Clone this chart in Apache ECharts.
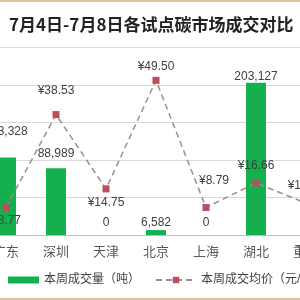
<!DOCTYPE html>
<html>
<head>
<meta charset="utf-8">
<script src="https://cdn.jsdelivr.net/npm/echarts@6/dist/echarts.min.js"></script>
<style>
  html, body { margin: 0; padding: 0; background: #fff; overflow: hidden; }
  #frame { position: relative; width: 300px; height: 300px; overflow: hidden; }
  #frame::before, #frame::after { content: ''; position: absolute; left: 0; width: 300px; height: 2px; background: #DCC29A; z-index: 2; }
  #frame::before { top: 0; }
  #frame::after { bottom: 0; }
  /* the reference is a crop of a wider chart, so the canvas runs past both edges */
  #chart { position: absolute; left: -19px; top: 0; width: 350px; height: 300px; }
</style>
</head>
<body>
<div id="frame"><div id="chart"></div></div>
<script>
const cities = ['广东', '深圳', '天津', '北京', '上海', '湖北', '重庆']
const volume = [103328, 88989, 0, 6582, 0, 203127, 0]
const volumeLabels = ['103,328', '88,989', '0', '6,582', '0', '203,127', '0']
const price = [8.77, 38.53, 14.75, 49.50, 8.79, 16.66, 10.20]

// label placement per point
const barLabelDist = [20, 9, 6, 1, 6, 0, 6]
const priceLabelPos = ['bottom', 'top', 'bottom', 'top', 'top', 'top', 'top']
const priceLabelDist = [4, 14, 4, 4, 17, 8, 8]
const priceLabelShift = [0, 0, 0, 0, 8, 0, 0]

const font = 'Liberation Sans, "Noto Sans CJK SC", sans-serif'

const chart = echarts.init(document.getElementById('chart'))

chart.setOption({
  animation: false,
  title: {
    text: '7月4日-7月8日各试点碳市场成交对比',
    left: 23,
    top: 11,
    textStyle: { fontSize: 17, fontWeight: 'bold', color: '#222', fontFamily: '"Noto Sans CJK SC", sans-serif' }
  },
  legend: [
    {
      data: ['本周成交量（吨）'],
      left: 22,
      top: 269,
      icon: 'rect',
      itemWidth: 31,
      itemHeight: 7,
      textStyle: { fontSize: 12, color: '#404040', fontFamily: font }
    },
    {
      data: ['本周成交均价（元/吨）'],
      left: 169,
      top: 269,
      itemWidth: 40,
      itemHeight: 8,
      textStyle: { fontSize: 12, color: '#404040', fontFamily: font }
    }
  ],
  grid: { left: 0, right: 0, top: 47.5, bottom: 65 },
  xAxis: {
    type: 'category',
    data: cities,
    axisLine: { lineStyle: { color: '#BFBFBF' } },
    axisTick: { length: 5, lineStyle: { color: '#BFBFBF' } },
    axisLabel: { fontSize: 13, color: '#595959', margin: 11, fontFamily: font }
  },
  yAxis: [
    {
      type: 'value',
      min: 0,
      max: 250000,
      interval: 50000,
      axisLabel: { show: false },
      axisLine: { show: false },
      axisTick: { show: false },
      splitLine: { lineStyle: { color: '#D9D9D9' } }
    },
    {
      type: 'value',
      min: 0,
      max: 60,
      interval: 12,
      axisLabel: { show: false },
      axisLine: { show: false },
      axisTick: { show: false },
      splitLine: { show: false }
    }
  ],
  series: [
    {
      name: '本周成交量（吨）',
      type: 'bar',
      barWidth: 20,
      itemStyle: { color: '#14B04E' },
      data: volume.map((v, i) => ({
        value: v,
        label: {
          show: true,
          position: 'top',
          distance: barLabelDist[i],
          formatter: volumeLabels[i],
          fontSize: 12,
          color: '#404040',
          fontFamily: font
        }
      }))
    },
    {
      name: '本周成交均价（元/吨）',
      type: 'line',
      yAxisIndex: 1,
      symbol: 'rect',
      symbolSize: 7,
      itemStyle: { color: '#B94F5D' },
      lineStyle: { color: '#A08C8C', width: 1.5, type: [6, 4] },
      data: price.map((p, i) => ({
        value: p,
        label: {
          show: true,
          position: priceLabelPos[i],
          distance: priceLabelDist[i],
          offset: [priceLabelShift[i], 0],
          formatter: '¥' + p.toFixed(2),
          fontSize: 12,
          color: '#404040',
          fontFamily: font
        }
      }))
    }
  ]
})
</script>
</body>
</html>
